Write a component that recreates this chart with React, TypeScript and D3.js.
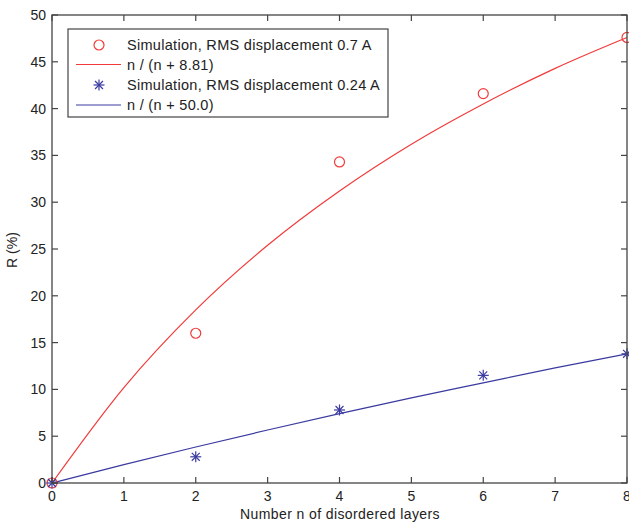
import React from "react";
import * as d3 from "d3";

const simN = [0, 2, 4, 6, 8];
const sim07 = [0, 16.0, 34.3, 41.6, 47.6];
const sim024 = [0, 2.8, 7.8, 11.5, 13.8];

const fitN = [0, 1, 2, 3, 4, 5, 6, 7, 8];
const fit881 = [0, 10.2, 18.5, 25.4, 31.2, 36.2, 40.5, 44.3, 47.6];
const fit500 = [0, 1.96, 3.85, 5.66, 7.41, 9.09, 10.7, 12.3, 13.8];

const xTicks = [0, 1, 2, 3, 4, 5, 6, 7, 8];
const yTicks = [0, 5, 10, 15, 20, 25, 30, 35, 40, 45, 50];

const legendLabels = [
  "Simulation, RMS displacement 0.7 A",
  "n / (n + 8.81)",
  "Simulation, RMS displacement 0.24 A",
  "n / (n + 50.0)",
];

const RED = "#f23a3a";
const BLUE = "#3a3aa0";
const AX = "#444";
const FONT = "'Liberation Sans', Arial, Helvetica, sans-serif";

export default function App() {
  const W = 629, H = 522;
  const L = 52, R = 627, T = 15, B = 483;
  const x = d3.scaleLinear().domain([0, 8]).range([L, R]);
  const y = d3.scaleLinear().domain([0, 50]).range([B, T]);
  const line = d3
    .line<number>()
    .x((_, i) => x(fitN[i]))
    .y((d) => y(d))
    .curve(d3.curveMonotoneX);
  const tk = 6;

  const star = (cx: number, cy: number, r: number, color: string, key: string) => {
    const d = r * 0.72;
    return (
      <g key={key} stroke={color} strokeWidth={1.2}>
        <line x1={cx - r} y1={cy} x2={cx + r} y2={cy} />
        <line x1={cx} y1={cy - r} x2={cx} y2={cy + r} />
        <line x1={cx - d} y1={cy - d} x2={cx + d} y2={cy + d} />
        <line x1={cx - d} y1={cy + d} x2={cx + d} y2={cy - d} />
      </g>
    );
  };

  const lg = { x: 68, y: 29, w: 320, h: 88 };
  const rowsY = [45, 64.5, 85, 105];

  return (
    <svg width={W} height={H} style={{ position: "absolute", left: 0, top: 0, background: "#fff" }} fontFamily={FONT}>
      <rect x={0} y={0} width={W} height={H} fill="#fff" />
      <path d={line(fit881) || ""} fill="none" stroke={RED} strokeWidth={1.2} />
      <path d={line(fit500) || ""} fill="none" stroke={BLUE} strokeWidth={1.2} />
      {simN.map((n, i) => (
        <circle key={"c" + i} cx={x(n)} cy={y(sim07[i])} r={5} fill="none" stroke={RED} strokeWidth={1.2} />
      ))}
      {simN.map((n, i) => star(x(n), y(sim024[i]), 5.5, BLUE, "s" + i))}
      <rect x={L} y={T} width={R - L} height={B - T} fill="none" stroke={AX} strokeWidth={1.3} />
      {xTicks.map((t) => (
        <g key={"x" + t}>
          <line x1={x(t)} x2={x(t)} y1={B} y2={B - tk} stroke={AX} strokeWidth={1.2} />
          <line x1={x(t)} x2={x(t)} y1={T} y2={T + tk} stroke={AX} strokeWidth={1.2} />
          <text x={x(t)} y={501} textAnchor="middle" fontSize={14} fill="#222">{t}</text>
        </g>
      ))}
      {yTicks.map((t) => (
        <g key={"y" + t}>
          <line x1={L} x2={L + tk} y1={y(t)} y2={y(t)} stroke={AX} strokeWidth={1.2} />
          <line x1={R} x2={R - tk} y1={y(t)} y2={y(t)} stroke={AX} strokeWidth={1.2} />
          <text x={46} y={y(t) + 5} textAnchor="end" fontSize={14} fill="#222">{t}</text>
        </g>
      ))}
      <text x={340} y={519} textAnchor="middle" fontSize={14} letterSpacing={0.4} fill="#222">Number n of disordered layers</text>
      <text transform={`translate(17,${250}) rotate(-90)`} textAnchor="middle" fontSize={14} fill="#222">R (%)</text>
      <rect x={lg.x} y={lg.y} width={lg.w} height={lg.h} fill="#fff" stroke={AX} strokeWidth={1.2} />
      <circle cx={99} cy={rowsY[0]} r={5} fill="none" stroke={RED} strokeWidth={1.2} />
      <line x1={76} x2={121} y1={rowsY[1]} y2={rowsY[1]} stroke={RED} strokeWidth={1.2} />
      {star(99, rowsY[2], 5.5, BLUE, "ls")}
      <line x1={76} x2={121} y1={rowsY[3]} y2={rowsY[3]} stroke={BLUE} strokeWidth={1.2} />
      {legendLabels.map((s, i) => (
        <text key={"l" + i} x={127} y={rowsY[i] + 5} fontSize={14.5} letterSpacing={0.3} fill="#222">{s}</text>
      ))}
    </svg>
  );
}
